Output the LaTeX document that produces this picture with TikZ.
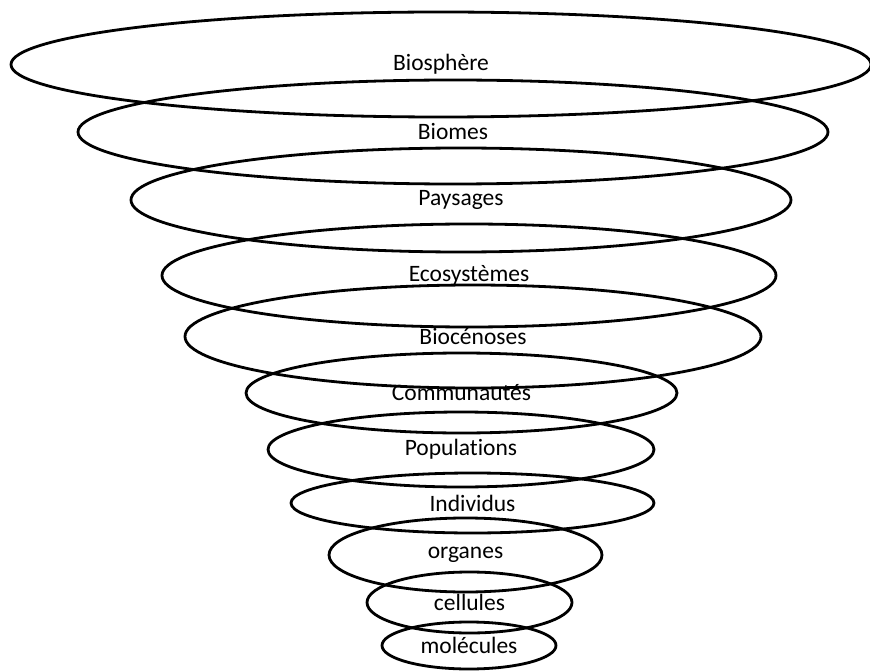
\documentclass[tikz,border=0pt]{standalone}
\usepackage{fontspec}
\setmainfont{Carlito}[Ligatures=NoCommon]
\usetikzlibrary{shapes.geometric}
\begin{document}
\begin{tikzpicture}[x=1pt, y=-1pt,
    niveau/.style={draw, ellipse, line width=2.8pt, inner sep=0pt,
        font=\fontsize{23.5}{28}\selectfont}]
    % Frame of the picture
    \useasboundingbox (0,0) rectangle (870,671);
    % Big levels
    \node[niveau, minimum width=860, minimum height=105] (biosphere) at (441,64.5) {Biosphère};
    \node[niveau, minimum width=750, minimum height=104] (biomes) at (453,132) {Biomes};
    \node[niveau, minimum width=660, minimum height=104] (paysages) at (461,200) {Paysages};
    \node[niveau, minimum width=614, minimum height=103] (ecosystemes) at (469,275.5) {Ecosystèmes};
    \node[niveau, minimum width=576, minimum height=103] (biocenoses) at (473,336.5) {Biocénoses};
    % Middle levels
    \node[niveau, minimum width=431, minimum height=80] (communautes) at (461.5,393) {Communautés};
    \node[niveau, minimum width=386, minimum height=75] (populations) at (461,449.5) {Populations};
    \node[niveau, minimum width=363, minimum height=60] (individus) at (472.5,503) {Individus};
    % Small levels
    \node[niveau, minimum width=273, minimum height=74] (organes) at (465.5,555) {organes};
    \node[niveau, minimum width=205, minimum height=61] (cellules) at (469.5,602.5) {cellules};
    \node[niveau, minimum width=174, minimum height=47] (molecules) at (469,645.5) {molécules};
\end{tikzpicture}
\end{document}
